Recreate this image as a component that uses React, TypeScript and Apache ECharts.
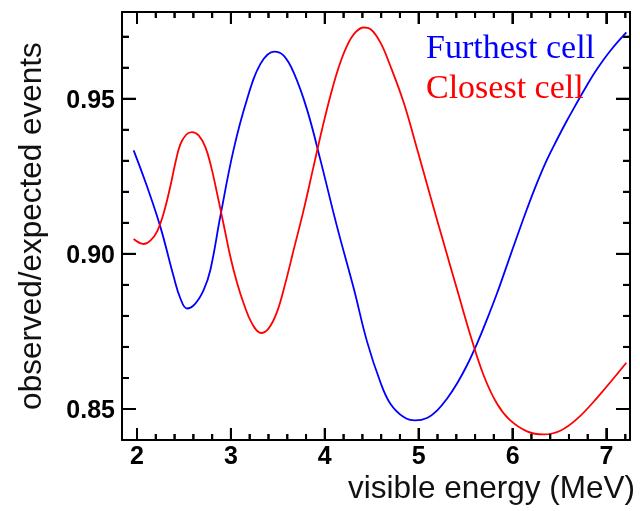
import React, { useEffect, useRef } from "react";
import * as echarts from "echarts";

// Furthest cell (blue) — visible energy (MeV) vs observed/expected events
const furthestEnergy = [1.964, 2.106, 2.248, 2.39, 2.461, 2.532, 2.621, 2.71, 2.781, 2.887, 3.029, 3.171, 3.313, 3.462, 3.562, 3.668, 3.81, 3.952, 4.13, 4.307, 4.449, 4.591, 4.698, 4.84, 4.964, 5.088, 5.195, 5.301, 5.408, 5.514, 5.621, 5.727, 5.834, 5.94, 6.047, 6.153, 6.26, 6.366, 6.473, 6.579, 6.686, 6.792, 6.899, 7.041, 7.211];
const furthestRatio = [0.9334, 0.9218, 0.9088, 0.8927, 0.8857, 0.8824, 0.884, 0.8884, 0.8948, 0.9121, 0.9337, 0.9498, 0.9612, 0.9652, 0.9639, 0.9585, 0.9466, 0.9304, 0.9088, 0.889, 0.8718, 0.8587, 0.8517, 0.8474, 0.8463, 0.8471, 0.8495, 0.8533, 0.8582, 0.8641, 0.8711, 0.8789, 0.8873, 0.8964, 0.9056, 0.9145, 0.9229, 0.9304, 0.9369, 0.943, 0.9488, 0.9544, 0.9596, 0.9655, 0.9714];

// Closest cell (red)
const closestEnergy = [1.964, 2.071, 2.142, 2.213, 2.284, 2.355, 2.408, 2.461, 2.525, 2.585, 2.656, 2.727, 2.788, 2.852, 2.923, 2.994, 3.065, 3.136, 3.224, 3.32, 3.402, 3.491, 3.579, 3.668, 3.775, 3.881, 3.97, 4.059, 4.147, 4.236, 4.325, 4.414, 4.485, 4.591, 4.698, 4.84, 4.982, 5.124, 5.266, 5.408, 5.55, 5.692, 5.834, 5.976, 6.153, 6.331, 6.508, 6.686, 6.899, 7.211];
const closestRatio = [0.9048, 0.9032, 0.9043, 0.9072, 0.9132, 0.9218, 0.9293, 0.9353, 0.9385, 0.9393, 0.9382, 0.9345, 0.9283, 0.9196, 0.9094, 0.8991, 0.8907, 0.884, 0.8776, 0.8745, 0.876, 0.8813, 0.8905, 0.9013, 0.9142, 0.9283, 0.9401, 0.9509, 0.9601, 0.9671, 0.9714, 0.973, 0.9725, 0.9682, 0.9606, 0.9488, 0.9339, 0.9186, 0.9035, 0.8886, 0.8738, 0.8608, 0.8517, 0.8463, 0.8428, 0.8418, 0.843, 0.8468, 0.8536, 0.8649];

const seriesNames = ["Furthest cell", "Closest cell"];
const seriesColors = ["#0000ff", "#ff0000"];
const xRange = [1.84, 7.25];
const yRange = [0.84, 0.978];
const xMajorTicks = [2, 3, 4, 5, 6, 7];
const yMajorTicks = [0.85, 0.9, 0.95];
const xMinorStep = 0.2;
const yMinorStep = 0.01;
const xTitle = "visible energy (MeV)";
const yTitle = "observed/expected events";

const sans = '"Liberation Sans", Arial, Helvetica, sans-serif';
const serif = '"Liberation Serif", "Times New Roman", serif';

function zip(xs: number[], ys: number[]) {
  return xs.map((x, i) => [x, ys[i]]);
}
function isMultiple(v: number, step: number) {
  const r = v / step;
  return Math.abs(r - Math.round(r)) < 1e-6;
}
function minorTicks(lo: number, hi: number, step: number, majors: number[]) {
  const out: number[] = [];
  const start = Math.ceil(lo / step - 1e-9);
  const end = Math.floor(hi / step + 1e-9);
  for (let i = start; i <= end; i++) {
    const v = +(i * step).toFixed(6);
    if (!majors.some((m) => Math.abs(m - v) < 1e-9)) out.push(v);
  }
  return out;
}

export default function App() {
  const ref = useRef<HTMLDivElement>(null);
  useEffect(() => {
    if (!ref.current) return;
    const chart = echarts.init(ref.current, null, { renderer: "svg" });

    const xMinorTicks = minorTicks(2, 7.2, xMinorStep, xMajorTicks);
    const yMinorTicks = minorTicks(0.85, 0.97, yMinorStep, yMajorTicks);

    // tick data: [x, y, length]
    const xTickData = [
      ...xMajorTicks.map((v) => [v, yRange[0], 12]),
      ...xMinorTicks.map((v) => [v, yRange[0], 6]),
    ];
    const yTickData = [
      ...yMajorTicks.map((v) => [xRange[0], v, 14]),
      ...yMinorTicks.map((v) => [xRange[0], v, 7]),
    ];

    const mkFrame = () => ({ show: true, onZero: false, lineStyle: { color: "#000", width: 2 } });
    const majorTick = (len: number) => ({
      show: true,
      inside: true,
      length: len,
      lineStyle: { color: "#000", width: 2 },
    });
    const labelBase = () => ({
      show: true,
      fontFamily: sans,
      fontWeight: "bold",
      fontSize: 25,
      color: "#000",
    });

    chart.setOption({
      animation: false,
      grid: { left: 122, right: 10, top: 12, bottom: 71 },
      xAxis: [
        {
          type: "value",
          position: "bottom",
          min: xRange[0],
          max: xRange[1],
          minInterval: 1,
          maxInterval: 1,
          axisLine: mkFrame(),
          splitLine: { show: false },
          axisTick: majorTick(12),
          axisLabel: {
            ...labelBase(),
            margin: 2,
            formatter: (v: number) => (xMajorTicks.some((m) => Math.abs(m - v) < 1e-9) ? String(v) : ""),
          },
        },
        {
          type: "value",
          position: "top",
          min: xRange[0],
          max: xRange[1],
          minInterval: 1,
          maxInterval: 1,
          axisLine: mkFrame(),
          splitLine: { show: false },
          axisTick: majorTick(12),
          axisLabel: { show: false },
        },
      ],
      yAxis: [
        {
          type: "value",
          position: "left",
          min: yRange[0],
          max: yRange[1],
          minInterval: 0.05,
          maxInterval: 0.05,
          axisLine: mkFrame(),
          splitLine: { show: false },
          axisTick: majorTick(14),
          axisLabel: {
            ...labelBase(),
            margin: 7,
            formatter: (v: number) => (isMultiple(v, 0.05) && v > yRange[0] + 1e-6 ? v.toFixed(2) : ""),
          },
        },
        {
          type: "value",
          position: "right",
          min: yRange[0],
          max: yRange[1],
          minInterval: 0.05,
          maxInterval: 0.05,
          axisLine: mkFrame(),
          splitLine: { show: false },
          axisTick: majorTick(14),
          axisLabel: { show: false },
        },
      ],
      title: [
        {
          text: seriesNames[0],
          left: 421,
          top: 24,
          textStyle: { fontFamily: serif, fontSize: 34, fontWeight: "normal", color: seriesColors[0] },
        },
        {
          text: seriesNames[1],
          left: 421,
          top: 64,
          textStyle: { fontFamily: serif, fontSize: 34, fontWeight: "normal", color: seriesColors[1] },
        },
        {
          text: xTitle,
          right: 0,
          top: 466,
          textStyle: { fontFamily: sans, fontSize: 31.5, fontWeight: "normal", color: "#111" },
        },
      ],
      series: [
        {
          name: seriesNames[0],
          type: "line",
          xAxisIndex: 0,
          yAxisIndex: 0,
          data: zip(furthestEnergy, furthestRatio),
          smooth: 0.4,
          showSymbol: false,
          lineStyle: { color: seriesColors[0], width: 1.8 },
          itemStyle: { color: seriesColors[0] },
        },
        {
          name: seriesNames[1],
          type: "line",
          xAxisIndex: 0,
          yAxisIndex: 0,
          data: zip(closestEnergy, closestRatio),
          smooth: 0.4,
          showSymbol: false,
          lineStyle: { color: seriesColors[1], width: 1.8 },
          itemStyle: { color: seriesColors[1] },
        },
        {
          name: "xTicks",
          type: "custom",
          xAxisIndex: 0,
          yAxisIndex: 0,
          silent: true,
          z: 5,
          dimensions: ["x", "y", "len"],
          encode: { x: 0, y: 1 },
          data: xTickData,
          renderItem: (_p: any, api: any) => {
            const x = api.value(0);
            const len = api.value(2);
            const b = api.coord([x, yRange[0]]);
            const t = api.coord([x, yRange[1]]);
            return {
              type: "group",
              children: [
                { type: "line", shape: { x1: b[0], y1: b[1], x2: b[0], y2: b[1] - len }, style: { stroke: "#000", lineWidth: 2 } },
                { type: "line", shape: { x1: t[0], y1: t[1], x2: t[0], y2: t[1] + len }, style: { stroke: "#000", lineWidth: 2 } },
              ],
            };
          },
        },
        {
          name: "yTicks",
          type: "custom",
          xAxisIndex: 0,
          yAxisIndex: 0,
          silent: true,
          z: 5,
          dimensions: ["x", "y", "len"],
          encode: { x: 0, y: 1 },
          data: yTickData,
          renderItem: (_p: any, api: any) => {
            const y = api.value(1);
            const len = api.value(2);
            const l = api.coord([xRange[0], y]);
            const r = api.coord([xRange[1], y]);
            return {
              type: "group",
              children: [
                { type: "line", shape: { x1: l[0], y1: l[1], x2: l[0] + len, y2: l[1] }, style: { stroke: "#000", lineWidth: 2 } },
                { type: "line", shape: { x1: r[0], y1: r[1], x2: r[0] - len, y2: r[1] }, style: { stroke: "#000", lineWidth: 2 } },
              ],
            };
          },
        },
      ],
    });

    // Fallback ticks and rotated y title, positioned through the chart's own axis scales
    const toPx = (v: number[]) => chart.convertToPixel({ xAxisIndex: 0, yAxisIndex: 0 }, v) as number[];
    const tickEls: any[] = [];
    xTickData.forEach(([x, , len]) => {
      const b = toPx([x, yRange[0]]);
      const t = toPx([x, yRange[1]]);
      if (!b || !t) return;
      tickEls.push({ type: "line", silent: true, z: 100, shape: { x1: b[0], y1: b[1], x2: b[0], y2: b[1] - len }, style: { stroke: "#000", lineWidth: 2 } });
      tickEls.push({ type: "line", silent: true, z: 100, shape: { x1: t[0], y1: t[1], x2: t[0], y2: t[1] + len }, style: { stroke: "#000", lineWidth: 2 } });
    });
    yTickData.forEach(([, y, len]) => {
      const l = toPx([xRange[0], y]);
      const r = toPx([xRange[1], y]);
      if (!l || !r) return;
      tickEls.push({ type: "line", silent: true, z: 100, shape: { x1: l[0], y1: l[1], x2: l[0] + len, y2: l[1] }, style: { stroke: "#000", lineWidth: 2 } });
      tickEls.push({ type: "line", silent: true, z: 100, shape: { x1: r[0], y1: r[1], x2: r[0] - len, y2: r[1] }, style: { stroke: "#000", lineWidth: 2 } });
    });
    const mid = toPx([xRange[0], (yRange[0] + yRange[1]) / 2]);
    chart.setOption({
      graphic: [
        {
          type: "text",
          x: 30,
          y: mid ? mid[1] : 226,
          rotation: Math.PI / 2,
          style: {
            text: yTitle,
            font: `31.5px ${sans}`,
            fill: "#111",
            align: "center",
            verticalAlign: "middle",
          },
        },
        ...tickEls,
      ],
    });

    return () => chart.dispose();
  }, []);
  return <div ref={ref} style={{ position: "fixed", left: 0, top: 0, width: 640, height: 511 }} />;
}
